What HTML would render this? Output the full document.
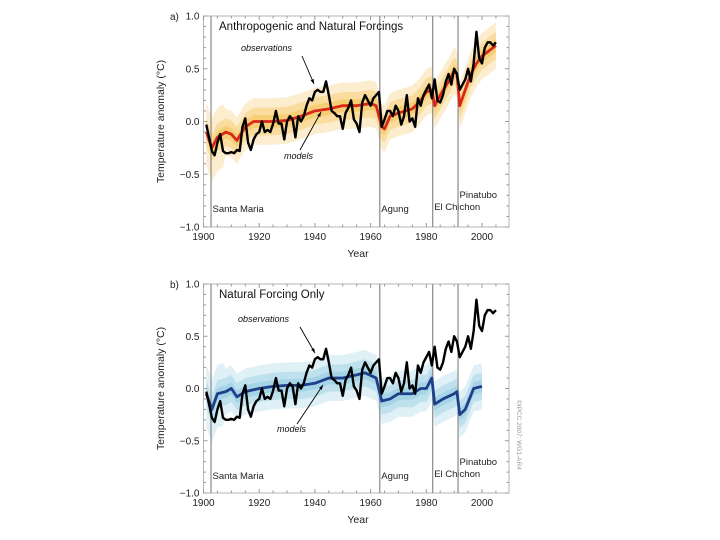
<!DOCTYPE html>
<html><head><meta charset="utf-8"><style>
body{margin:0;background:#fff;}
svg{display:block;font-family:"Liberation Sans",sans-serif;}
</style></head><body>
<svg id="chart" width="720" height="540" viewBox="0 0 720 540"></svg>
<script>
const obsYears=[];for(let yr=1901;yr<=2005;yr++)obsYears.push(yr);
const obsValues=[-0.03,-0.15,-0.28,-0.32,-0.2,-0.12,-0.28,-0.3,-0.3,-0.29,-0.3,-0.27,-0.28,-0.05,0.03,-0.2,-0.27,-0.17,-0.12,-0.1,0.0,-0.1,-0.08,-0.1,-0.02,0.1,-0.02,-0.02,-0.17,0.0,0.05,0.02,-0.15,0.05,0.0,0.05,0.15,0.22,0.2,0.28,0.3,0.28,0.28,0.38,0.25,0.1,0.08,0.05,0.05,-0.07,0.08,0.13,0.2,0.02,-0.02,-0.1,0.18,0.25,0.2,0.15,0.22,0.25,0.28,-0.05,0.02,0.1,0.1,0.05,0.15,0.1,-0.03,0.05,0.25,0.0,0.03,-0.05,0.22,0.15,0.25,0.3,0.35,0.22,0.4,0.2,0.18,0.25,0.38,0.45,0.35,0.5,0.45,0.3,0.35,0.4,0.5,0.38,0.55,0.85,0.6,0.55,0.7,0.75,0.75,0.72,0.75];
const anthroYears=[1901,1903,1905,1908,1910,1912,1915,1918,1920,1925,1930,1935,1940,1945,1950,1955,1960,1962,1964,1965,1967,1970,1975,1978,1980,1982,1983,1985,1988,1990,1991,1992,1994,1996,1998,2000,2005];
const anthroValues=[-0.1,-0.25,-0.15,-0.1,-0.12,-0.18,-0.05,0.0,0.0,0.0,0.01,0.05,0.1,0.12,0.15,0.15,0.17,0.15,-0.05,-0.07,0.05,0.08,0.12,0.2,0.28,0.3,0.15,0.25,0.38,0.48,0.45,0.15,0.3,0.45,0.55,0.62,0.72];
const naturalYears=[1901,1903,1905,1908,1910,1912,1915,1920,1925,1930,1935,1940,1945,1950,1955,1958,1962,1964,1967,1970,1975,1978,1980,1982,1983,1986,1990,1991,1992,1994,1997,2000];
const naturalValues=[-0.05,-0.2,-0.05,-0.03,0.0,-0.08,-0.03,0.0,0.02,0.03,0.03,0.05,0.1,0.1,0.13,0.15,0.1,-0.12,-0.1,-0.05,-0.05,0.0,0.0,0.1,-0.15,-0.1,-0.05,-0.03,-0.25,-0.2,0.0,0.02];
const spreadWidths=[0.22,0.13,0.06];
const volcanoNames=["Santa Maria","Agung","El Chichon","Pinatubo"];
const volcanoYears=[1902.7,1963.3,1982.3,1991.4];
const xTicks=[1900,1920,1940,1960,1980,2000];
const yTicks=[1.0,0.5,0.0,-0.5,-1.0];

const NS="http://www.w3.org/2000/svg";
const svg=document.getElementById('chart');
function mk(tag,attrs,parent,text){const e=document.createElementNS(NS,tag);for(const k in attrs)e.setAttribute(k,attrs[k]);if(text!==undefined)e.textContent=text;(parent||svg).appendChild(e);return e;}
const X=yr=>203.5+(yr-1900)*2.785;
const L=X(1900),R=509;

function panel(top,bot,label,title,modelYears,modelVals,bandColor,lineColor,endYear,offs,annot,prefix){
  const Y=v=>top+(1-v)*(bot-top)/2;
  const g=mk('g',{});
  
  
  const frame=mk('rect',{x:L,y:top,width:R-L,height:bot-top,fill:'none',stroke:'#b5b5b5','stroke-width':1},g);
  
  for(let yr=1900;yr<=2005;yr+=5){const len=yr%20===0?4:2.5;mk('line',{x1:X(yr),x2:X(yr),y1:bot,y2:bot-len,stroke:'#999'},g);mk('line',{x1:X(yr),x2:X(yr),y1:top,y2:top+len,stroke:'#999'},g);}
  for(let i=-10;i<=10;i++){const v=i/10;const len=i%5===0?4:2.5;mk('line',{x1:L,x2:L+len,y1:Y(v),y2:Y(v),stroke:'#999'},g);mk('line',{x1:R,x2:R-len,y1:Y(v),y2:Y(v),stroke:'#999'},g);}
  xTicks.forEach(t=>{const e=mk('text',{x:X(t),y:bot+13,'font-size':10,'text-anchor':'middle',fill:'#222'},g,String(t));});
  yTicks.forEach(t=>{const s=t===0?'0.0':(t<0?'\u2212'+Math.abs(t).toFixed(1):t.toFixed(1));const e=mk('text',{x:L-4,y:Y(t)+3.5,'font-size':10,'text-anchor':'end',fill:'#222'},g,s);});
  const interp=yr=>{for(let i=0;i<modelYears.length-1;i++){if(yr>=modelYears[i]&&yr<=modelYears[i+1]){const f=(yr-modelYears[i])/(modelYears[i+1]-modelYears[i]);return modelVals[i]+f*(modelVals[i+1]-modelVals[i]);}}return modelVals[modelVals.length-1];};
  const yrs=[];for(let yr=1901;yr<=endYear;yr++)yrs.push(yr);
  spreadWidths.forEach((w,k)=>{
    const up=yrs.map(yr=>X(yr)+','+Y(interp(yr)+w+(k===0&&yr<1908?0.06:0)));
    const dn=yrs.slice().reverse().map(yr=>X(yr)+','+Y(interp(yr)-w-(k===0&&yr<1908?0.1:0)));
    const p=mk('polygon',{points:up.concat(dn).join(' '),fill:bandColor,opacity:[0.25,0.33,0.42][k]},g);
    
  });
  volcanoYears.forEach((vy,i)=>{const l=mk('line',{x1:X(vy),x2:X(vy),y1:top,y2:bot,stroke:'#8a8a8a','stroke-width':1.2},g);
    const t=mk('text',{x:X(vy)+1.5,y:bot+offs[i],'font-size':9.5,fill:'#222'},g,volcanoNames[i]);});
  const mp=mk('polyline',{points:modelYears.map((yr,i)=>X(yr)+','+Y(modelVals[i])).join(' '),fill:'none',stroke:lineColor,'stroke-width':2.8,'stroke-linejoin':'round'},g);
  
  const op=mk('polyline',{points:obsYears.map((yr,i)=>X(yr)+','+Y(obsValues[i])).join(' '),fill:'none',stroke:'#000','stroke-width':2.4,'stroke-linejoin':'round'},g);
  
  const lb=mk('text',{x:170,y:top+4,'font-size':10,fill:'#222'},g,label);
  const tt=mk('text',{x:219,y:top+14,'font-size':11.5,fill:'#111'},g,title);
  const yt=mk('text',{x:0,y:0,'font-size':10.5,'text-anchor':'middle',fill:'#222',transform:`translate(164,${(top+bot)/2}) rotate(-90)`},g,'Temperature anomaly (\u00B0C)');
  const xt=mk('text',{x:358,y:bot+30,'font-size':10.5,'text-anchor':'middle',fill:'#222'},g,'Year');
  const ot=mk('text',{x:annot.ox,y:annot.oy,'font-size':9,'font-style':'italic',fill:'#111'},g,'observations');
  const mt=mk('text',{x:annot.mx,y:annot.my,'font-size':9,'font-style':'italic',fill:'#111'},g,'models');
  annot.arrows.forEach(a=>{mk('line',{x1:a[0],y1:a[1],x2:a[2],y2:a[3],stroke:'#000','stroke-width':0.9},g);
    const ang=Math.atan2(a[3]-a[1],a[2]-a[0]);const s=5;
    mk('polygon',{points:`${a[2]},${a[3]} ${a[2]-s*Math.cos(ang-0.35)},${a[3]-s*Math.sin(ang-0.35)} ${a[2]-s*Math.cos(ang+0.35)},${a[3]-s*Math.sin(ang+0.35)}`,fill:'#000'},g);});
}
panel(16,227,'a)','Anthropogenic and Natural Forcings',anthroYears,anthroValues,'#f2b93c','#d8281a',2005,[-15,-15,-17,-29],
  {ox:241,oy:51,mx:284,my:159,arrows:[[302,56,314,84],[300,150,321,112]]},'top');
panel(284,493,'b)','Natural Forcing Only',naturalYears,naturalValues,'#7fc3dc','#1f3f8a',2000,[-14,-14,-16,-28],
  {ox:238,oy:322,mx:277,my:432,arrows:[[300,327,315,353],[297,424,323,385]]},'bottom');
const c=mk('text',{x:0,y:0,'font-size':6.5,fill:'#999',transform:'translate(517,400) rotate(90)'},svg,'\u00A9IPCC 2007: WG1-AR4');

</script>
</body></html>
